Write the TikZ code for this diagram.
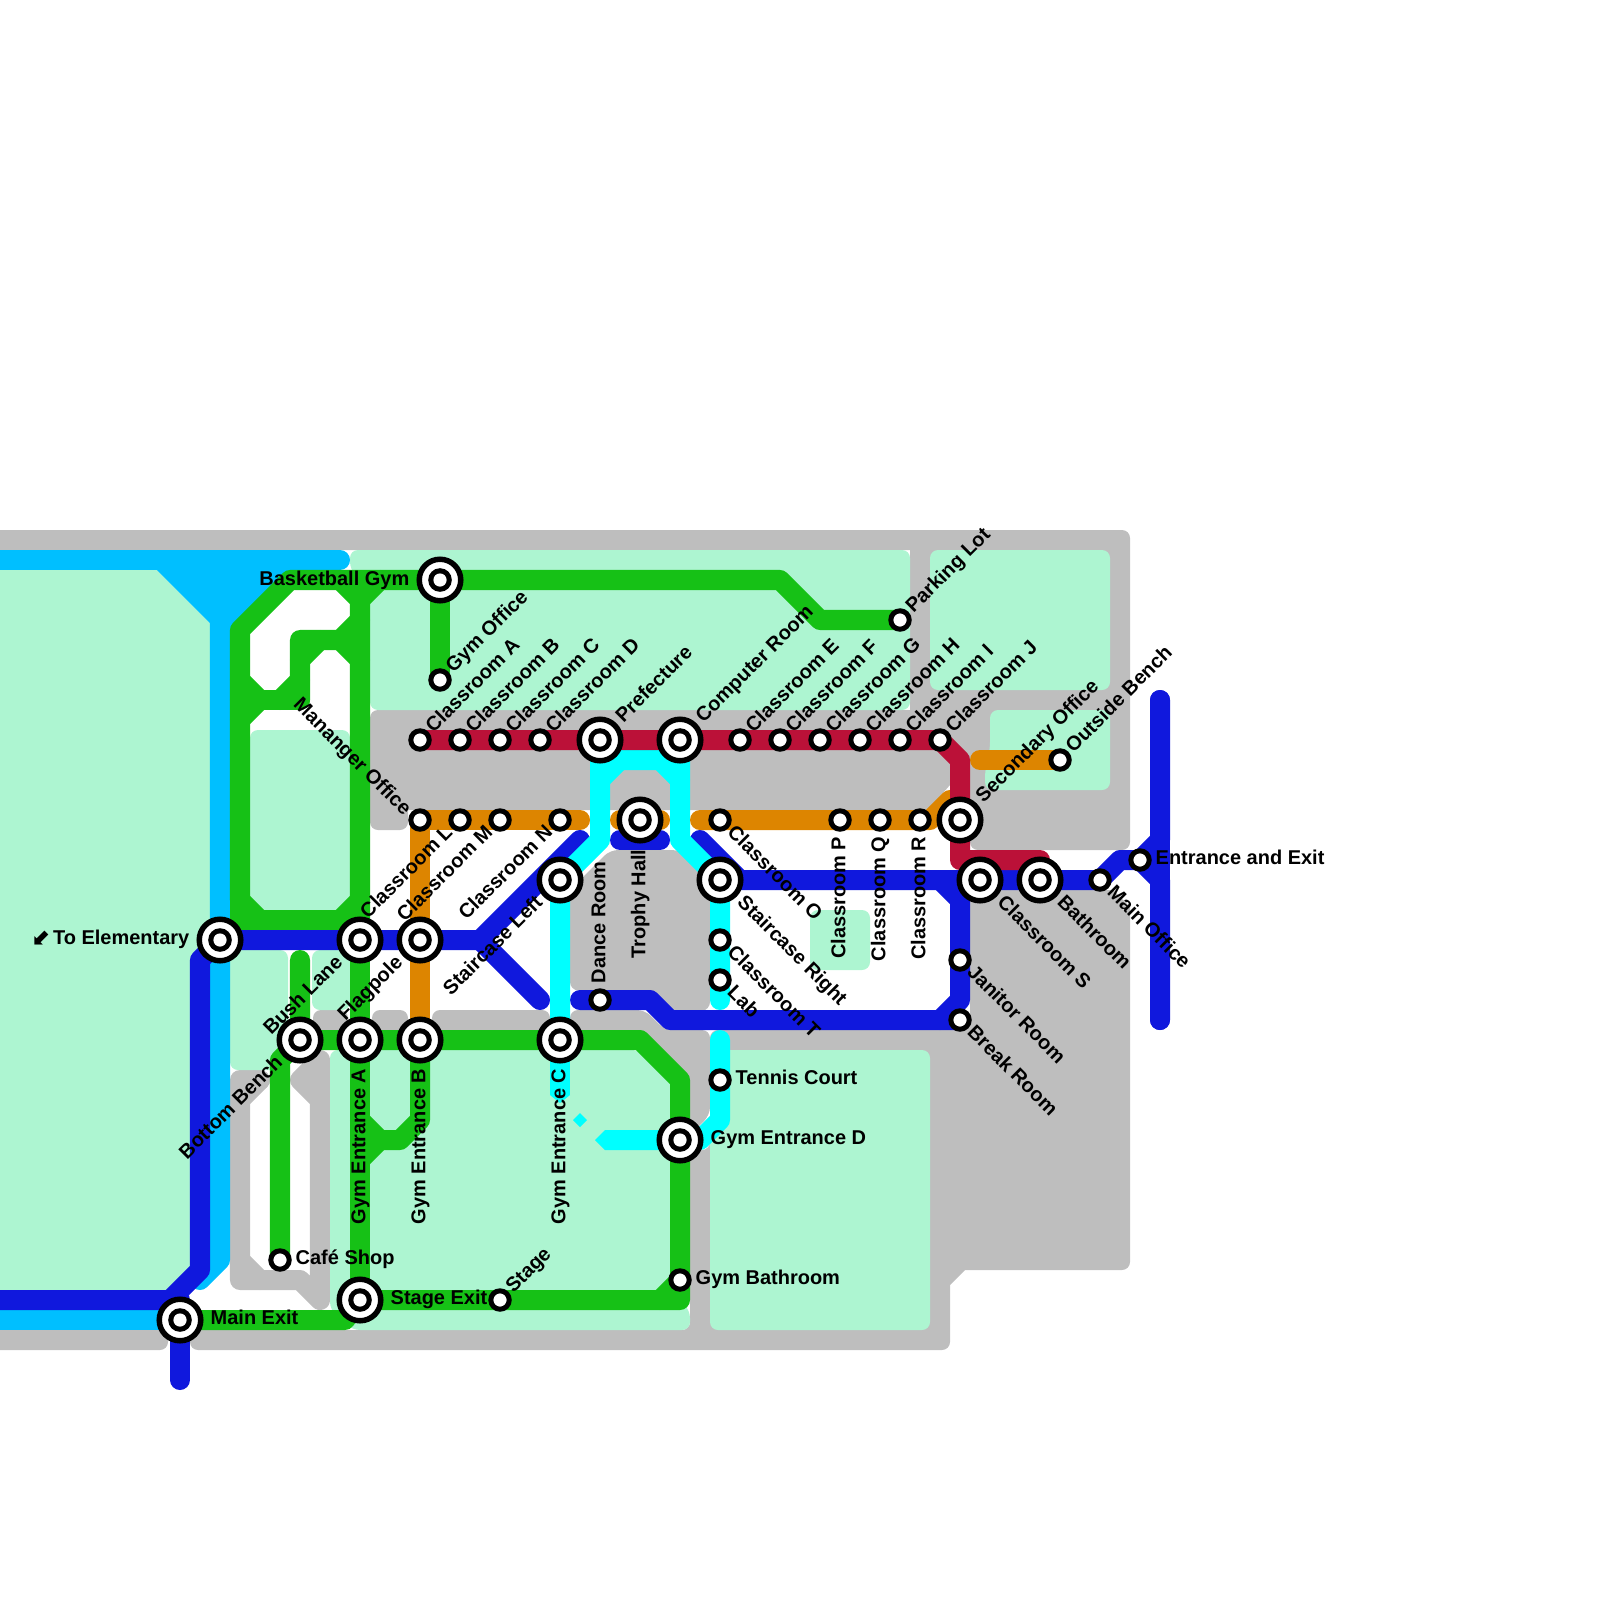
\documentclass[tikz,border=0pt]{standalone}
\usepackage{fontspec}
\setmainfont{Liberation Sans}
\newfontfamily\symfont{DejaVu Sans}
\definecolor{wall}{HTML}{BEBEBE}
\definecolor{mint}{HTML}{ADF5D1}
\definecolor{skyl}{HTML}{00BFFF}
\definecolor{greenl}{HTML}{16C116}
\definecolor{bluel}{HTML}{1018DD}
\definecolor{cyanl}{HTML}{00FFFF}
\definecolor{orangel}{HTML}{DD8500}
\definecolor{redl}{HTML}{BB1138}
\pgfdeclarelayer{areas}
\pgfdeclarelayer{lines}
\pgfsetlayers{areas,lines,main}
\tikzset{
  wallfill/.style={fill=wall,rounded corners=0.08cm},
  mintfill/.style={fill=mint,rounded corners=0.08cm},
  route/.style={line width=0.2cm,line cap=round,line join=round},
  sky/.style={route,draw=skyl},
  grn/.style={route,draw=greenl},
  blu/.style={route,draw=bluel},
  cyn/.style={route,draw=cyanl},
  org/.style={route,draw=orangel},
  rd/.style={route,draw=redl},
  stop/.style={circle,draw=black,fill=white,line width=0.05cm,minimum size=0.184cm,inner sep=0pt},
  hub/.style={circle,draw=black,fill=white,line width=0.055cm,minimum size=0.415cm,inner sep=0pt,
    path picture={\fill[black] (path picture bounding box.center) circle (0.118cm);
                  \fill[white] (path picture bounding box.center) circle (0.066cm);}},
  lab/.style={font=\fontsize{5.68}{7}\selectfont\bfseries,inner sep=0pt,text height=0.145cm,text depth=0pt,text=black},
  ur/.style={lab,rotate=45,anchor=west},
  dl/.style={lab,rotate=45,anchor=east},
  dr/.style={lab,rotate=-45,anchor=west},
  ul/.style={lab,rotate=-45,anchor=east},
  vu/.style={lab,rotate=90,anchor=west},
  vd/.style={lab,rotate=90,anchor=east},
  rt/.style={lab,anchor=west},
  lf/.style={lab,anchor=east},
}
\begin{document}
\begin{tikzpicture}[x=0.01cm,y=-0.01cm]
\useasboundingbox (0,0) rectangle (1600,1600);
% stations
\node[hub] (basket) at (440,580) {};
\node[stop] (gymoff) at (440,680) {};
\node[stop] (parking) at (900,620) {};
\node[stop] (ca) at (420,740) {};
\node[stop] (cb) at (460,740) {};
\node[stop] (cc) at (500,740) {};
\node[stop] (cd) at (540,740) {};
\node[hub] (prefect) at (600,740) {};
\node[hub] (comproom) at (680,740) {};
\node[stop] (ce) at (740,740) {};
\node[stop] (cf) at (780,740) {};
\node[stop] (cg) at (820,740) {};
\node[stop] (ch) at (860,740) {};
\node[stop] (ci) at (900,740) {};
\node[stop] (cj) at (940,740) {};
\node[stop] (outside) at (1060,760) {};
\node[stop] (manager) at (420,820) {};
\node[stop] (cl) at (460,820) {};
\node[stop] (cm) at (500,820) {};
\node[stop] (cn) at (560,820) {};
\node[hub] (trophy) at (640,820) {};
\node[stop] (co) at (720,820) {};
\node[stop] (cp) at (840,820) {};
\node[stop] (cq) at (880,820) {};
\node[stop] (cr) at (920,820) {};
\node[hub] (secondary) at (960,820) {};
\node[hub] (stairL) at (560,880) {};
\node[hub] (stairR) at (720,880) {};
\node[hub] (cs) at (980,880) {};
\node[hub] (bath) at (1040,880) {};
\node[stop] (mainoff) at (1100,880) {};
\node[stop] (entrance) at (1140,860) {};
\node[hub] (elem) at (220,940) {};
\node[hub] (bush) at (360,940) {};
\node[hub] (flag) at (420,940) {};
\node[stop] (ct) at (720,940) {};
\node[stop] (janitor) at (960,960) {};
\node[stop] (lab) at (720,980) {};
\node[stop] (dance) at (600,1000) {};
\node[stop] (break) at (960,1020) {};
\node[hub] (bench) at (300,1040) {};
\node[hub] (geA) at (360,1040) {};
\node[hub] (geB) at (420,1040) {};
\node[hub] (geC) at (560,1040) {};
\node[stop] (tennis) at (720,1080) {};
\node[hub] (geD) at (680,1140) {};
\node[stop] (cafe) at (280,1260) {};
\node[stop] (gymbath) at (680,1280) {};
\node[hub] (stageexit) at (360,1300) {};
\node[stop] (stage) at (500,1300) {};
\node[hub] (mainexit) at (180,1320) {};
% free corner points
\coordinate (skyW) at (-20,560);
\coordinate (skyE) at (340,560);
\coordinate (skyLW) at (-20,1320);
\coordinate (bluW) at (-20,1300);
\coordinate (bluS) at (180,1380);
\coordinate (bluEN) at (1160,700);
\coordinate (bluES) at (1160,1020);
% areas
\begin{pgfonlayer}{areas}
\fill[wall] (-20,530) [rounded corners=0.08cm] -- (1130,530) -- (1130,850) -- (970,850) [sharp corners] -- (970,710) -- (910,710) -- (910,550) -- (-20,550) -- cycle;
\fill[wallfill] (950,680) -- (995,680) -- (995,745) -- (950,745) -- cycle;
\fill[wallfill] (965,770) -- (995,770) -- (995,810) -- (965,810) -- cycle;
\fill[wallfill] (370,710) [sharp corners] -- (970,710) -- (970,760) -- (950,785) -- (928,810) -- (408,810) [rounded corners=0.08cm] -- (408,830) -- (370,830) -- cycle;
\fill[wall] (970,890) -- (1113,890) -- (1130,907) [rounded corners=0.08cm] -- (1130,1270) -- (1000,1270) [sharp corners] -- (965,1270) -- (950,1285) -- (950,1310) [rounded corners=0.08cm] -- (950,1350) -- (190,1350) -- (190,1330) -- (690,1330) -- (690,1150) -- (710,1150) -- (710,1030) -- (970,1030) -- cycle;
\fill[wall] (-20,1330) [rounded corners=0.08cm] -- (168,1330) -- (168,1350) [sharp corners] -- (-20,1350) -- cycle;
\fill[wallfill] (610,850) -- (680,850) -- (710,880) -- (710,1010) [sharp corners] -- (670,1015) -- (650,995) [rounded corners=0.08cm] -- (570,990) -- (570,890) -- cycle;
\fill[wallfill] (570,1010) -- (645,1010) -- (665,1030) -- (710,1030) -- (710,1115) -- (690,1135) -- (650,1135) -- (650,1060) -- (620,1030) -- (570,1030) -- cycle;
\fill[wallfill] (313,1010) -- (348,1010) -- (348,1032) -- (313,1032) -- cycle;
\fill[wallfill] (372,1010) -- (408,1010) -- (408,1032) -- (372,1032) -- cycle;
\fill[wallfill] (432,1010) -- (550,1010) -- (550,1032) -- (432,1032) -- cycle;
\draw[route,draw=wall] (260,1080) -- (240,1080) -- (240,1280) -- (300,1280) -- (320,1300) -- (320,1060) -- (300,1080) -- (320,1100);
\draw[route,draw=wall] (260,1080) -- (240,1100);
\draw[route,draw=wall] (240,1260) -- (260,1280);
% mint
\fill[mint] (-20,570) -- (157,570) -- (210,623) -- (210,1260) -- (170,1290) -- (-20,1290) -- cycle;
\fill[mintfill] (350,550) -- (910,550) -- (910,710) -- (370,710) -- (370,590) -- (350,570) -- cycle;
\fill[mintfill] (930,550) -- (1110,550) -- (1110,690) -- (930,690) -- cycle;
\fill[mintfill] (990,710) -- (1110,710) -- (1110,790) -- (985,790) -- (985,770) -- (990,750) -- cycle;
\fill[mintfill] (250,730) -- (350,730) -- (350,920) -- (250,920) -- cycle;
\fill[mintfill] (230,950) -- (288,950) -- (288,1070) -- (230,1070) -- cycle;
\fill[mintfill] (312,950) -- (350,950) -- (350,1010) -- (312,1010) -- cycle;
\fill[mintfill] (330,1050) -- (640,1050) -- (680,1090) -- (680,1300) -- (690,1310) -- (690,1330) -- (352,1330) -- (330,1310) -- cycle;
\fill[mintfill] (710,1050) -- (930,1050) -- (930,1330) -- (710,1330) -- cycle;
\fill[mintfill] (810,910) -- (870,910) -- (870,970) -- (810,970) -- cycle;
\end{pgfonlayer}
% routes
\begin{pgfonlayer}{lines}
\draw[sky] (skyW) -- (skyE);
\fill[skyl] (157,570) -- (290,570) -- (230,630) -- (230,640) -- (210,640) -- (210,623) -- cycle;
\draw[sky] (220,620) -- (elem.center) -- (220,1260) -- (200,1280);
\draw[sky] (skyLW) -- (mainexit.center);
% blue
\draw[blu] (bluW) -- (170,1300) -- (200,1270) -- (200,960) -- (elem.center) -- (bush.center) -- (flag.center) -- (480,940) -- (580,840);
\draw[blu] (480,940) -- (540,1000);
\draw[blu] (bluS) -- (mainexit.center) -- (180,1300);
\draw[blu] (620,840) -- (660,840);
\draw[blu] (700,840) -- (740,880) -- (940,880) -- (cs.center) -- (bath.center) -- (mainoff.center) -- (1120,860) -- (entrance.center) -- (1160,840) -- (bluEN);
\draw[blu] (entrance.center) -- (1160,880) -- (bluES);
\draw[blu] (bluEN) -- (bluES);
\draw[blu] (940,880) -- (960,900) -- (janitor.center) -- (960,1000) -- (940,1020);
\draw[blu] (580,1000) -- (dance.center) -- (650,1000) -- (670,1020) -- (break.center);
% cyan
\draw[cyn] (prefect.center) -- (600,760) -- (600,840) -- (stairL.center) -- (geC.center);
\draw[cyn] (600,760) -- (680,760) -- (680,840) -- (stairR.center) -- (ct.center) -- (lab.center) -- (720,1000);
\draw[cyn] (comproom.center) -- (680,760);
\draw[cyn] (600,780) -- (620,760);
\draw[cyn] (660,760) -- (680,780);
\draw[cyn,line cap=butt] (geC.center) -- (560,1095);
\fill[cyanl] (550,1095) -- (570,1095) -- (560,1103) -- cycle;
\fill[cyanl] (580,1113) -- (587,1120) -- (580,1127) -- (573,1120) -- cycle;
\fill[cyanl] (595,1140) -- (605,1130) -- (680,1130) -- (680,1150) -- (605,1150) -- cycle;
\draw[cyn] (720,1040) -- (tennis.center) -- (720,1120) -- (700,1140);
% green
\draw[grn] (240,900) -- (240,630) -- (290,580) -- (basket.center) -- (780,580) -- (820,620) -- (parking.center);
\draw[grn] (240,900) -- (240,920) -- (360,920);
\draw[grn] (bush.center) -- (360,600) -- (340,580);
\draw[grn] (360,600) -- (380,580);
\draw[grn] (240,900) -- (260,920);
\draw[grn] (340,920) -- (360,900);
\draw[grn] (300,700) -- (300,640) -- (340,640) -- (360,620);
\draw[grn] (340,640) -- (360,660);
\draw[grn] (300,660) -- (320,640);
\draw[grn] (300,680) -- (280,700);
\draw[grn] (240,700) -- (300,700);
\draw[grn] (240,680) -- (260,700);
\draw[grn] (240,720) -- (260,700);
\draw[grn] (basket.center) -- (gymoff.center);
\draw[grn] (bush.center) -- (geA.center) -- (stageexit.center);
\draw[grn] (300,960) -- (bench.center) -- (geA.center) -- (geB.center) -- (geC.center) -- (640,1040) -- (680,1080) -- (geD.center) -- (gymbath.center) -- (680,1300) -- (stage.center) -- (stageexit.center);
\draw[grn] (660,1300) -- (gymbath.center);
\draw[grn] (bench.center) -- (280,1060) -- (cafe.center);
\draw[grn] (mainexit.center) -- (345,1320) -- (stageexit.center);
\draw[grn] (geB.center) -- (420,1120) -- (400,1140) -- (380,1140) -- (360,1120);
\draw[grn] (380,1140) -- (360,1160);
% orange
\draw[org] (manager.center) -- (cl.center) -- (cm.center) -- (cn.center) -- (580,820);
\draw[org] (manager.center) -- (flag.center) -- (geB.center);
\draw[org] (620,820) -- (trophy.center) -- (660,820);
\draw[org] (700,820) -- (co.center) -- (cp.center) -- (cq.center) -- (cr.center) -- (930,820) -- (950,800);
\draw[org] (980,760) -- (outside.center);
% red
\draw[rd] (ca.center) -- (prefect.center) -- (comproom.center) -- (cj.center) -- (960,760) -- (secondary.center) -- (960,860) -- (1040,860);
\end{pgfonlayer}
% labels
\node[lf] (lbasket) at (410,578) {Basketball Gym};
\node[ur] (lgymoff) at ([shift={(8,-11)}]gymoff.center) {Gym Office};
\node[ur] (lca) at ([shift={(8,-11)}]ca.center) {Classroom A};
\node[ur] (lcb) at ([shift={(8,-11)}]cb.center) {Classroom B};
\node[ur] (lcc) at ([shift={(8,-11)}]cc.center) {Classroom C};
\node[ur] (lcd) at ([shift={(8,-11)}]cd.center) {Classroom D};
\node[ur] (lpre) at ([shift={(18,-21)}]prefect.center) {Prefecture};
\node[ur] (lcomp) at ([shift={(18,-21)}]comproom.center) {Computer Room};
\node[ur] (lce) at ([shift={(8,-11)}]ce.center) {Classroom E};
\node[ur] (lcf) at ([shift={(8,-11)}]cf.center) {Classroom F};
\node[ur] (lcg) at ([shift={(8,-11)}]cg.center) {Classroom G};
\node[ur] (lch) at ([shift={(8,-11)}]ch.center) {Classroom H};
\node[ur] (lci) at ([shift={(8,-11)}]ci.center) {Classroom I};
\node[ur] (lcj) at ([shift={(8,-11)}]cj.center) {Classroom J};
\node[ur] (lpark) at ([shift={(8,-11)}]parking.center) {Parking Lot};
\node[ur] (lout) at ([shift={(8,-11)}]outside.center) {Outside Bench};
\node[ur] (lsec) at ([shift={(18,-21)}]secondary.center) {Secondary Office};
\node[ur] (lstage) at ([shift={(8,-11)}]stage.center) {Stage};
\node[dl] (lcl) at ([shift={(-11,8)}]cl.center) {Classroom L};
\node[dl] (lcm) at ([shift={(-11,8)}]cm.center) {Classroom M};
\node[dl] (lcn) at ([shift={(-11,8)}]cn.center) {Classroom N};
\node[dl] (lsl) at ([shift={(-21,18)}]stairL.center) {Staircase Left};
\node[dl] (lflag) at ([shift={(-21,18)}]flag.center) {Flagpole};
\node[dl] (lbush) at ([shift={(-21,18)}]bush.center) {Bush Lane};
\node[dl] (lbench) at ([shift={(-21,18)}]bench.center) {Bottom Bench};
\node[ul] (lman) at ([shift={(-11,-8)}]manager.center) {Mananger Office};
\node[dr] (lco) at ([shift={(11,8)}]co.center) {Classroom O};
\node[dr] (lsr) at ([shift={(21,18)}]stairR.center) {Staircase Right};
\node[dr] (lct) at ([shift={(11,8)}]ct.center) {Classroom T};
\node[dr] (llab) at ([shift={(11,8)}]lab.center) {Lab};
\node[dr] (lcs) at ([shift={(21,18)}]cs.center) {Classroom S};
\node[dr] (lbath) at ([shift={(21,18)}]bath.center) {Bathroom};
\node[dr] (lmo) at ([shift={(11,8)}]mainoff.center) {Main Office};
\node[dr] (ljan) at ([shift={(11,8)}]janitor.center) {Janitor Room};
\node[dr] (lbrk) at ([shift={(11,8)}]break.center) {Break Room};
\node[vu] (ldance) at ([shift={(-2,-16)}]dance.center) {Dance Room};
\node[vd] (ltro) at ([shift={(-2,29)}]trophy.center) {Trophy Hall};
\node[vd] (lcp) at ([shift={(-2,16)}]cp.center) {Classroom P};
\node[vd] (lcq) at ([shift={(-2,16)}]cq.center) {Classroom Q};
\node[vd] (lcr) at ([shift={(-2,16)}]cr.center) {Classroom R};
\node[vd] (lgea) at ([shift={(-2,28)}]geA.center) {Gym Entrance A};
\node[vd] (lgeb) at ([shift={(-2,28)}]geB.center) {Gym Entrance B};
\node[vd] (lgec) at ([shift={(-2,28)}]geC.center) {Gym Entrance C};
\node[rt] (lcafe) at ([shift={(15,-3)}]cafe.center) {Café Shop};
\node[rt] (lmain) at ([shift={(30,-3)}]mainexit.center) {Main Exit};
\node[rt] (lse) at ([shift={(30,-3)}]stageexit.center) {Stage Exit};
\node[rt] (lten) at ([shift={(15,-3)}]tennis.center) {Tennis Court};
\node[rt] (lged) at ([shift={(30,-3)}]geD.center) {Gym Entrance D};
\node[rt] (lgb) at ([shift={(15,-3)}]gymbath.center) {Gym Bathroom};
\node[rt] (lent) at ([shift={(15,-3)}]entrance.center) {Entrance and Exit};
\node[lf] (lelem) at ([shift={(-30,-3)}]elem.center) {{\fontsize{6.4}{7}\symfont ⬋}\hspace{0.02cm}To Elementary};
\end{tikzpicture}
\end{document}
